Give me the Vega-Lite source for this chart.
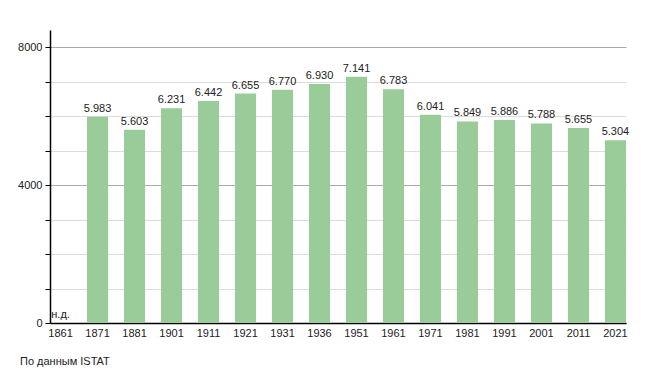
{
  "$schema": "https://vega.github.io/schema/vega-lite/v6.json",
  "width": 576,
  "height": 293,
  "autosize": "none",
  "padding": {"left": 50, "top": 30, "right": 29, "bottom": 50},
  "background": "white",
  "config": {
    "view": {"stroke": null},
    "font": "Liberation Sans",
    "text": {"font": "Liberation Sans"}
  },
  "title": {
    "text": "По данным ISTAT",
    "orient": "bottom",
    "anchor": "start",
    "frame": "group",
    "dx": -30,
    "offset": 18,
    "fontSize": 11,
    "fontWeight": "normal",
    "color": "#222",
    "font": "Liberation Sans"
  },
  "data": {
    "values": [
      {"year": "1861", "pop": null, "label": "н.д."},
      {"year": "1871", "pop": 5983, "label": "5.983"},
      {"year": "1881", "pop": 5603, "label": "5.603"},
      {"year": "1901", "pop": 6231, "label": "6.231"},
      {"year": "1911", "pop": 6442, "label": "6.442"},
      {"year": "1921", "pop": 6655, "label": "6.655"},
      {"year": "1931", "pop": 6770, "label": "6.770"},
      {"year": "1936", "pop": 6930, "label": "6.930"},
      {"year": "1951", "pop": 7141, "label": "7.141"},
      {"year": "1961", "pop": 6783, "label": "6.783"},
      {"year": "1971", "pop": 6041, "label": "6.041"},
      {"year": "1981", "pop": 5849, "label": "5.849"},
      {"year": "1991", "pop": 5886, "label": "5.886"},
      {"year": "2001", "pop": 5788, "label": "5.788"},
      {"year": "2011", "pop": 5655, "label": "5.655"},
      {"year": "2021", "pop": 5304, "label": "5.304"}
    ]
  },
  "transform": [{"calculate": "datum.pop == null ? 0 : datum.pop", "as": "ly"}],
  "encoding": {
    "x": {
      "field": "year",
      "type": "ordinal",
      "sort": "ascending",
      "scale": {"paddingInner": 0.43, "paddingOuter": 0},
      "axis": {
        "title": null,
        "labelAngle": 0,
        "ticks": false,
        "domainColor": "#000",
        "domainWidth": 1.5,
        "labelColor": "#222",
        "labelFontSize": 11,
        "labelPadding": 4,
        "labelFont": "Liberation Sans"
      }
    },
    "y": {
      "field": "ly",
      "type": "quantitative",
      "scale": {"domain": [0, 8500], "nice": false},
      "axis": {
        "title": null,
        "values": [0, 1000, 2000, 3000, 4000, 5000, 6000, 7000, 8000],
        "labelExpr": "datum.value % 4000 === 0 ? datum.label : ''",
        "labelOverlap": false,
        "labelBound": false,
        "format": "d",
        "grid": true,
        "gridColor": {"condition": {"test": "datum.value % 4000 === 0", "value": "#aaaaaa"}, "value": "#dcdcdc"},
        "domainColor": "#000",
        "domainWidth": 1.5,
        "tickColor": "#000",
        "tickWidth": 1,
        "tickSize": 5,
        "labelColor": "#222",
        "labelFontSize": 11,
        "labelPadding": 3,
        "labelFont": "Liberation Sans"
      }
    }
  },
  "layer": [
    {
      "mark": {"type": "bar", "color": "#99cc99"}
    },
    {
      "mark": {"type": "text", "baseline": "bottom", "dy": -3, "fontSize": 11, "color": "#222", "font": "Liberation Sans"},
      "encoding": {
        "text": {"field": "label"}
      }
    }
  ]
}
